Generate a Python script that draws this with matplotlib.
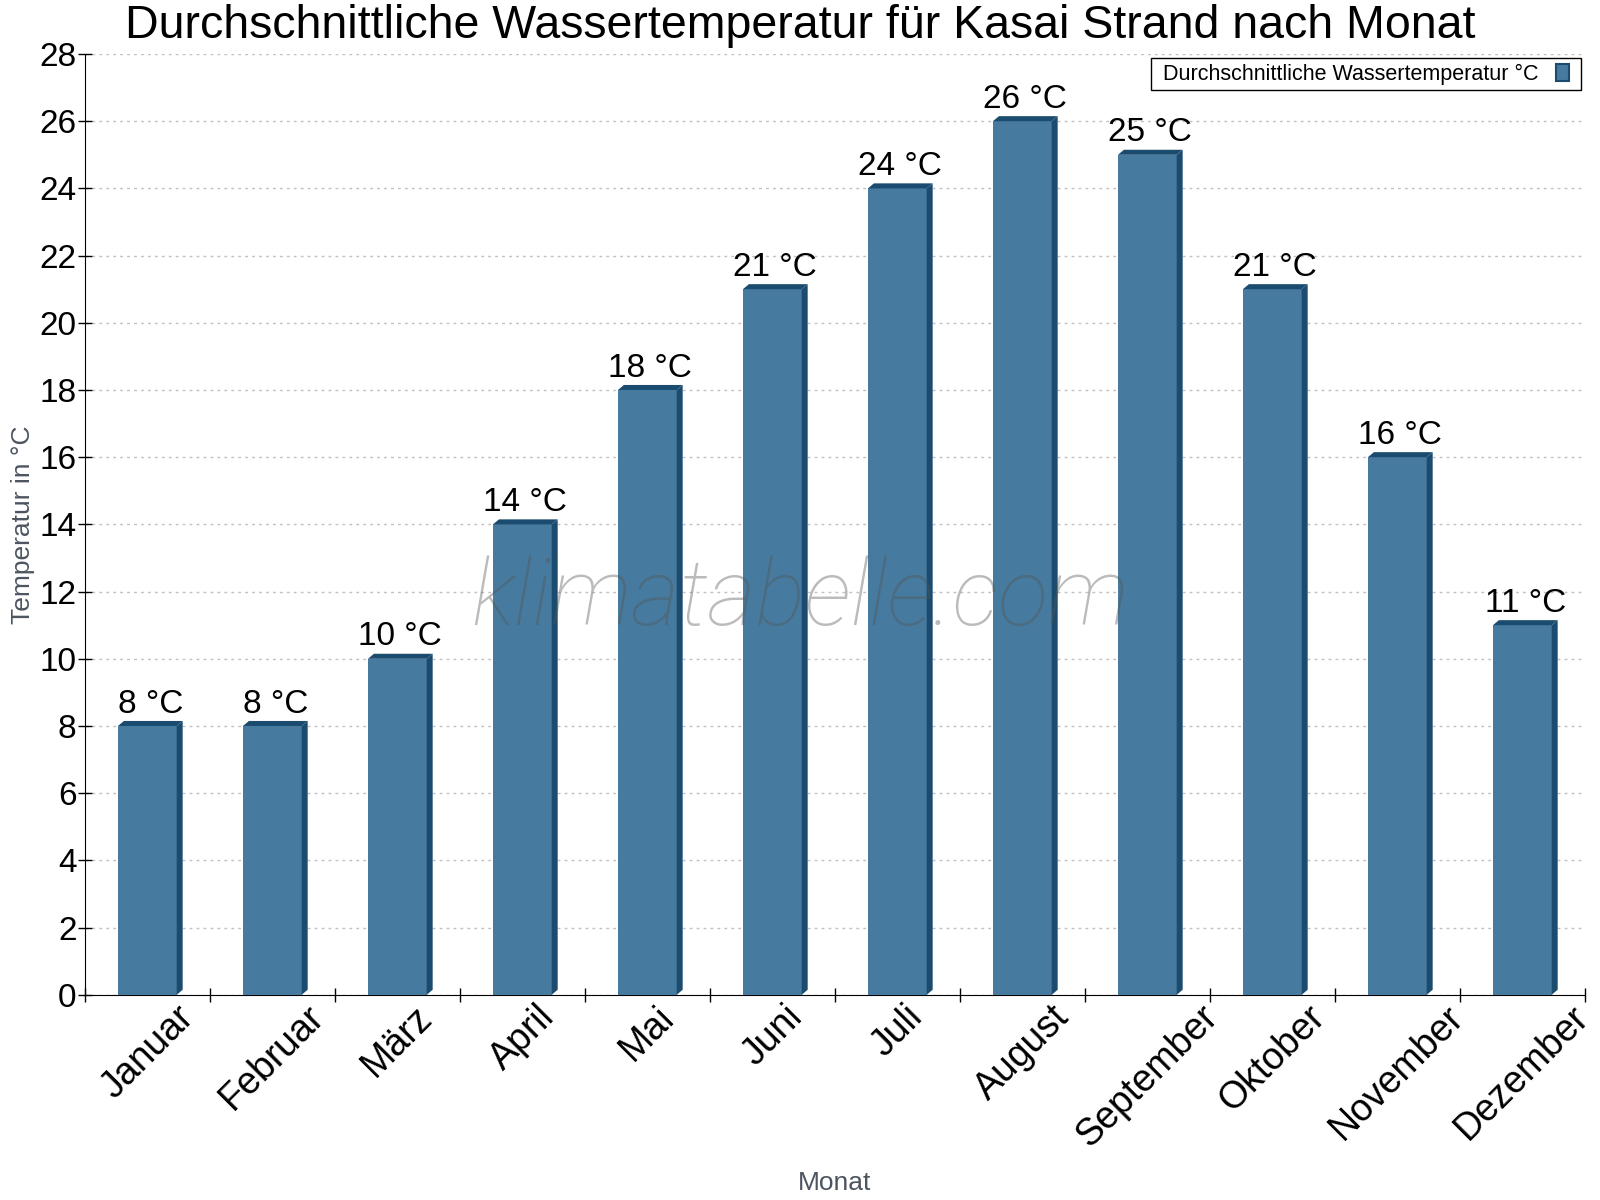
import numpy as np
import matplotlib
matplotlib.use("Agg")
import matplotlib.pyplot as plt
from matplotlib.patches import Polygon, Patch, Rectangle

plt.rcParams['font.family'] = ['Liberation Sans', 'DejaVu Sans']

months = ['Januar', 'Februar', 'März', 'April', 'Mai', 'Juni', 'Juli',
          'August', 'September', 'Oktober', 'November', 'Dezember']
water_temp = [8, 8, 10, 14, 18, 21, 24, 26, 25, 21, 16, 11]
y_ticks = list(range(0, 29, 2))

front_col = '#467a9e'
dark_col = '#1b4c6f'
title = 'Durchschnittliche Wassertemperatur für Kasai Strand nach Monat'
legend_label = 'Durchschnittliche Wassertemperatur °C'

fig = plt.figure(figsize=(16, 12), dpi=100)
ax = fig.add_axes([0.053, 0.171, 0.9375, 0.784])

x = np.arange(len(months))
width = 0.47
# depth of the fake 3d effect (data units)
dx = 0.048
dy = 0.15

ax.bar(x, water_temp, width=width, color=front_col, zorder=3)
for xi, h in zip(x, water_temp):
    xl = xi - width / 2
    xr = xi + width / 2
    side = Polygon([(xr, 0), (xr + dx, dy), (xr + dx, h + dy), (xr, h)],
                   closed=True, facecolor=dark_col, edgecolor='none', zorder=3)
    top = Polygon([(xl, h), (xl + dx, h + dy), (xr + dx, h + dy), (xr, h)],
                  closed=True, facecolor=dark_col, edgecolor='none', zorder=3)
    ax.add_patch(side)
    ax.add_patch(top)
    ax.annotate(f'{h} °C', (xi + dx / 2, h + dy), xytext=(0, 1),
                textcoords='offset points', ha='center', va='bottom',
                fontsize=24, zorder=5)

ax.set_xlim(-0.5, len(months) - 0.5)
ax.set_ylim(0, 28)
ax.set_yticks(y_ticks)
ax.set_xticks(np.arange(len(months) + 1) - 0.5)
ax.set_xticklabels([])
ax.set_xticks(x, minor=True)
ax.set_xticklabels(months, minor=True, rotation=45, fontsize=27)
ax.tick_params(axis='x', which='major', direction='inout', length=10, width=1)
ax.tick_params(axis='x', which='minor', length=0, pad=3)
ax.tick_params(axis='y', direction='inout', length=10, width=1, labelsize=24, pad=1)

ax.grid(axis='y', linestyle=(0, (2, 3)), color='#c0c0c0', linewidth=1, zorder=0)
ax.spines['top'].set_visible(False)
ax.spines['right'].set_visible(False)

ax.set_ylabel('Temperatur in °C', fontsize=19, color='#4d5560', labelpad=3)
ax.set_xlabel('Monat', fontsize=19, color='#4d5560', labelpad=12)

fig.text(0.5, 0.978, title, ha='center', va='center', fontsize=33.5)

ax.text(0.477, 0.42, 'klimatabelle.com', transform=ax.transAxes,
        ha='center', va='center', fontsize=67, family='Roboto',
        style='italic', weight='light', color='#555555', alpha=0.4, zorder=6)

# legend: swatch after the text, frame drawn by hand to get wider side padding
handle = Patch(facecolor=front_col, edgecolor=dark_col, linewidth=1.5)
leg = ax.legend([handle], [legend_label], loc='upper right', markerfirst=False,
                fontsize=15.5, fancybox=False, frameon=False,
                handlelength=0.6, handleheight=0.85, borderpad=0.25,
                borderaxespad=0.2, bbox_to_anchor=(0.996, 1.0))
leg.set_zorder(10)
fig.canvas.draw()
bb = leg.get_window_extent()
pad_x = 7
frame = Rectangle((bb.x0 - pad_x, bb.y0), bb.width + 2 * pad_x, bb.height,
                  transform=None, facecolor='white', edgecolor='black',
                  linewidth=1, zorder=9)
ax.add_artist(frame)

fig.savefig('out.png', dpi=100)
